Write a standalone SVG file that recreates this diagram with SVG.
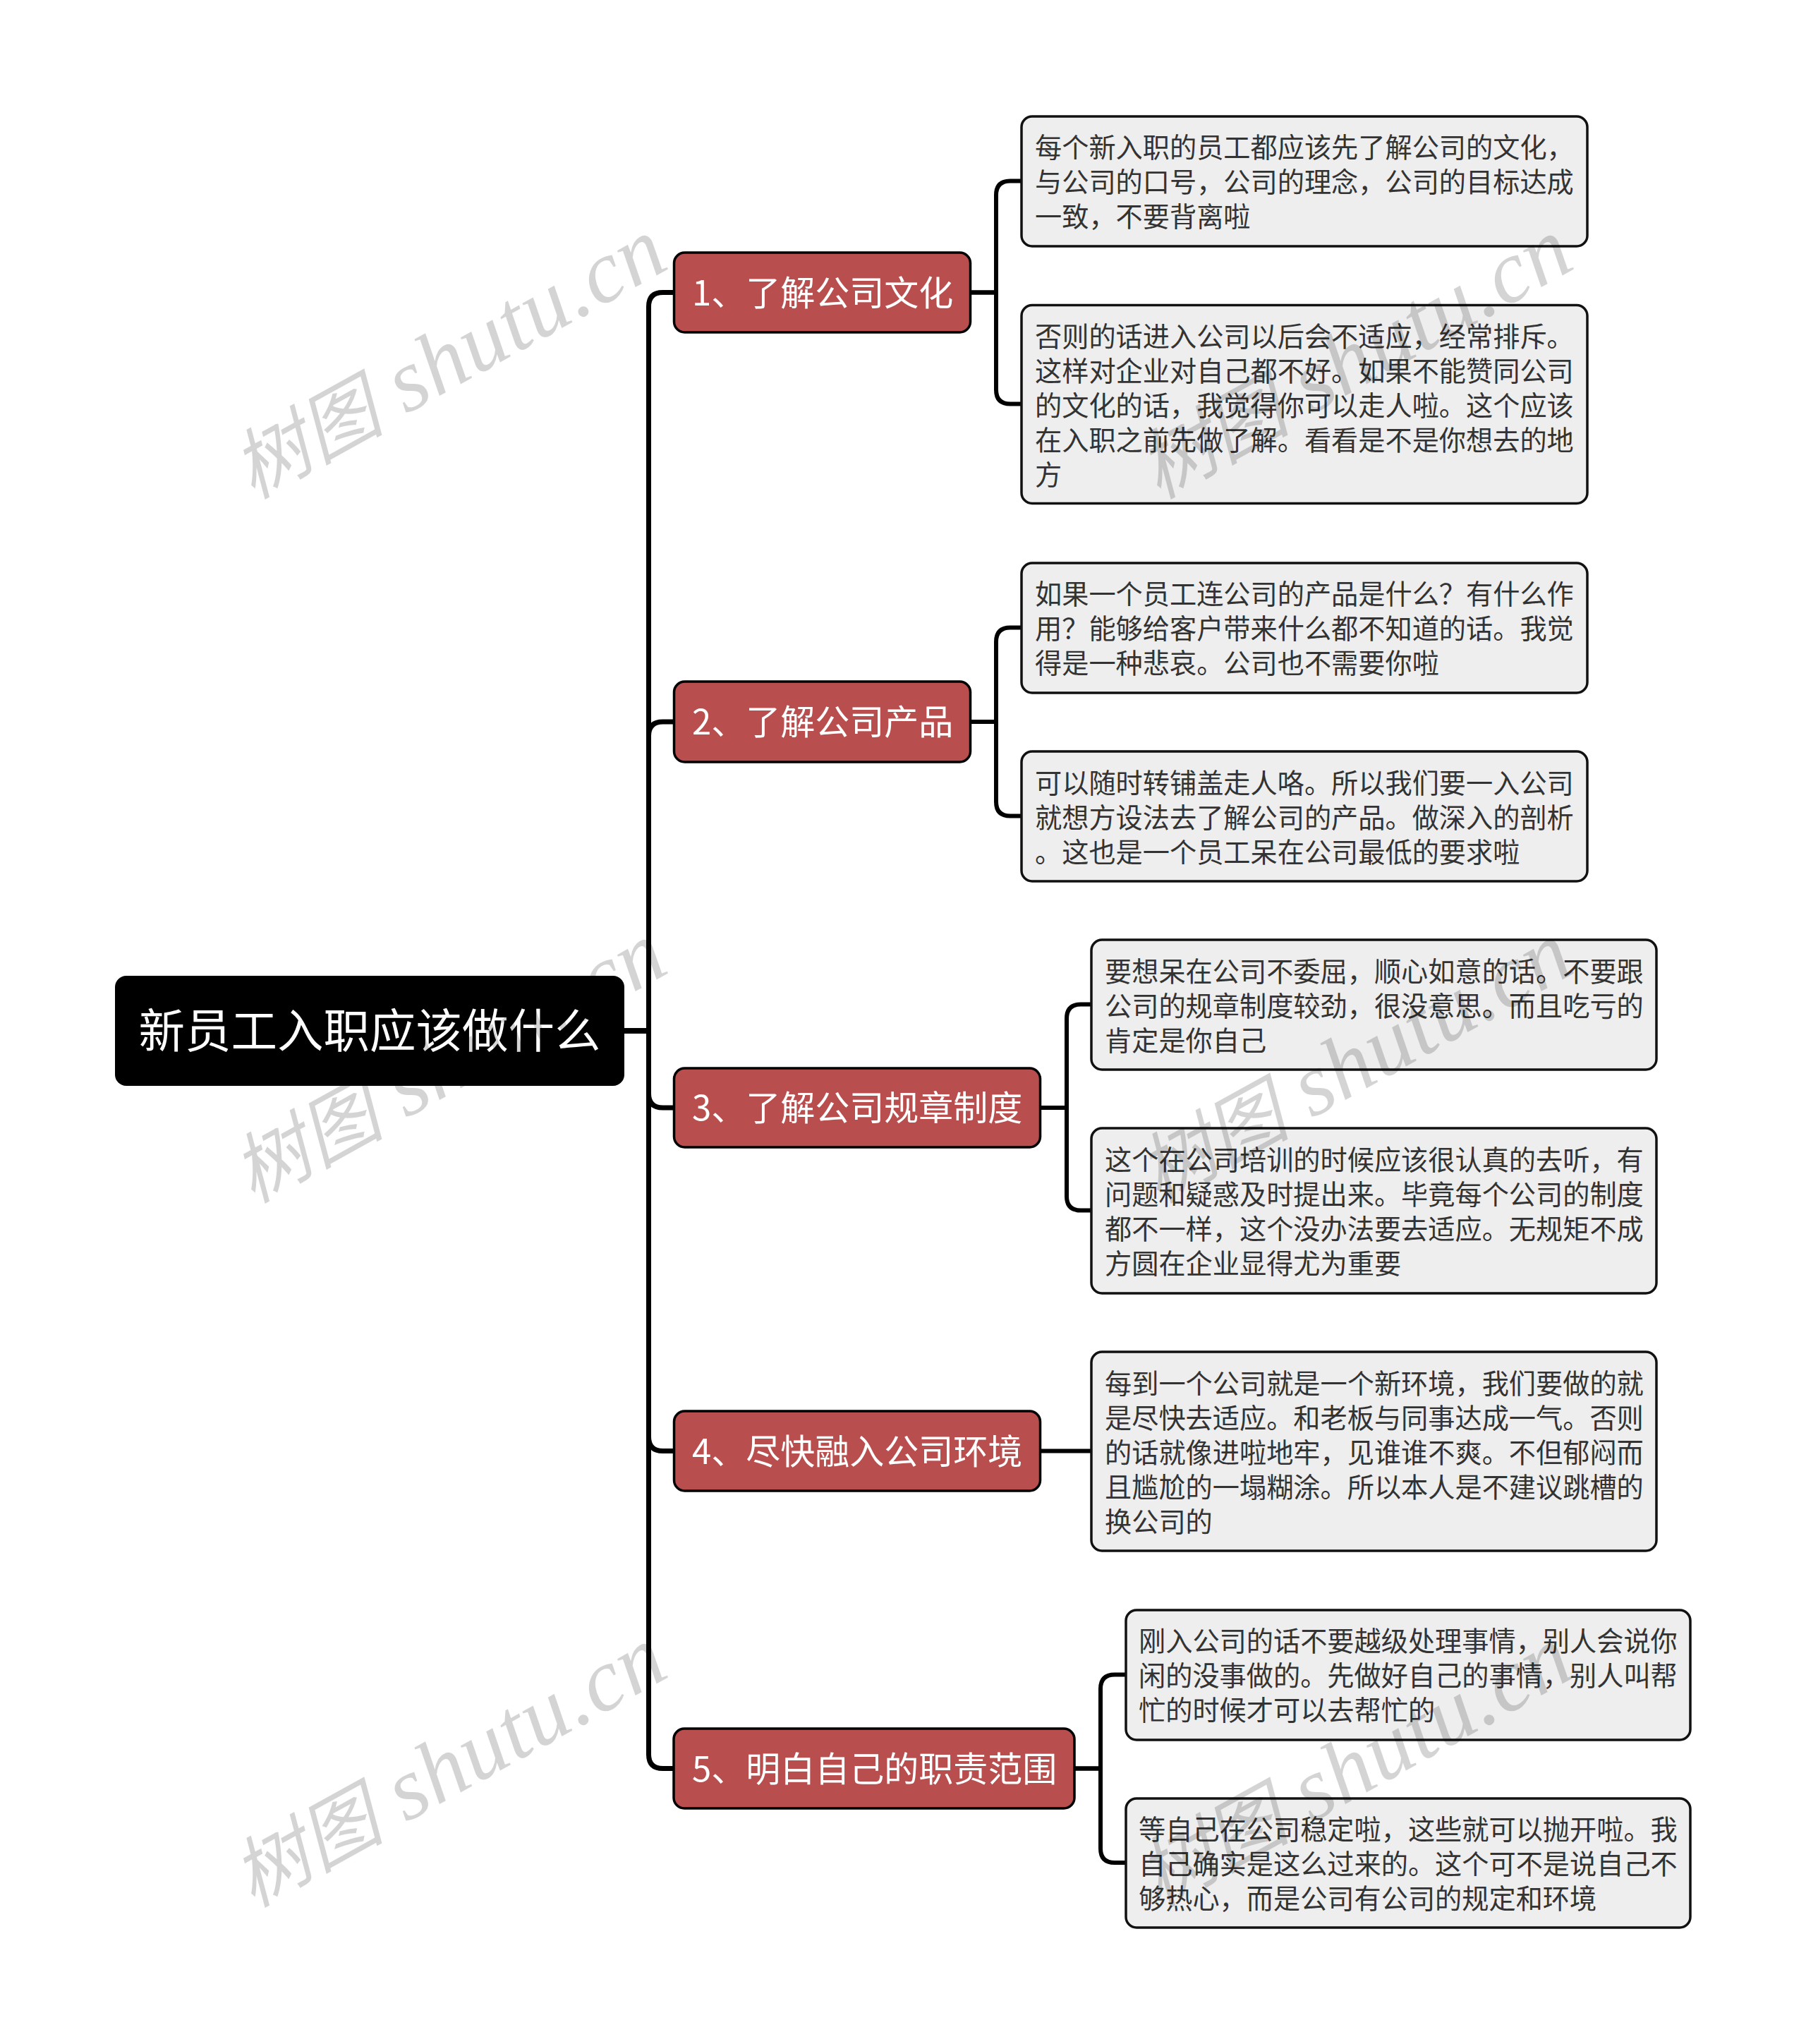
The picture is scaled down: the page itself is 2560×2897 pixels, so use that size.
<svg xmlns="http://www.w3.org/2000/svg" width="2560" height="2897" viewBox="0 0 2560 2897">
<style>
text{font-family:"Noto Sans CJK SC","Liberation Sans",sans-serif}
.trunk{fill:none;stroke:#000;stroke-width:7}
.twig{fill:none;stroke:#000;stroke-width:6}
.root{fill:#000}
.rootT{fill:#fff;font-size:65.5px;text-anchor:middle}
.topic{fill:#b94e4e;stroke:#000;stroke-width:3.5}
.topicT{fill:#fff;font-size:49px}
.leaf{fill:#eee;stroke:#111;stroke-width:3.5}
.leafT{fill:#333;font-size:38.2px}
.wm{font-family:"Liberation Serif","Noto Sans CJK SC",serif;font-style:italic;font-size:126px;letter-spacing:1px;fill:#000;fill-opacity:.17}
.wmc{font-size:108px;letter-spacing:0}
</style>
<rect width="2560" height="2897" fill="#fff"/>
<g id="connectors">
<path class="trunk" d="M885 1461H919.5V434.5Q919.5 414.5 939.5 414.5H956"/>
<path class="trunk" d="M885 1461H919.5V1043Q919.5 1023 939.5 1023H956"/>
<path class="trunk" d="M885 1461H919.5V1550Q919.5 1570 939.5 1570H956"/>
<path class="trunk" d="M885 1461H919.5V2036.5Q919.5 2056.5 939.5 2056.5H956"/>
<path class="trunk" d="M885 1461H919.5V2486.5Q919.5 2506.5 939.5 2506.5H956"/>
<path class="twig" d="M1376 414.5H1412V276.5Q1412 256.5 1432 256.5H1449"/>
<path class="twig" d="M1376 414.5H1412V552.5Q1412 572.5 1432 572.5H1449"/>
<path class="twig" d="M1376 1023H1412V909.5Q1412 889.5 1432 889.5H1449"/>
<path class="twig" d="M1376 1023H1412V1136.5Q1412 1156.5 1432 1156.5H1449"/>
<path class="twig" d="M1475 1570H1512V1443.5Q1512 1423.5 1532 1423.5H1547"/>
<path class="twig" d="M1475 1570H1512V1695.5Q1512 1715.5 1532 1715.5H1547"/>
<path class="twig" d="M1475 2056.5H1547"/>
<path class="twig" d="M1524 2506.5H1560V2393.5Q1560 2373.5 1580 2373.5H1596"/>
<path class="twig" d="M1524 2506.5H1560V2620Q1560 2640 1580 2640H1596"/>
</g>
<g id="root"><rect class="root" x="163" y="1383" width="722" height="156" rx="16"/><text class="rootT" x="524" y="1484.5">新员工入职应该做什么</text></g>
<g id="topic1"><rect class="topic" x="955.5" y="358" width="420" height="113" rx="15"/><text class="topicT" x="981" y="432.5">1、了解公司文化</text></g>
<g id="topic2"><rect class="topic" x="955.5" y="966" width="420" height="114" rx="15"/><text class="topicT" x="981" y="1041">2、了解公司产品</text></g>
<g id="topic3"><rect class="topic" x="955.5" y="1514" width="519" height="112" rx="15"/><text class="topicT" x="981" y="1587.5">3、了解公司规章制度</text></g>
<g id="topic4"><rect class="topic" x="955.5" y="2000" width="519" height="113" rx="15"/><text class="topicT" x="981" y="2075">4、尽快融入公司环境</text></g>
<g id="topic5"><rect class="topic" x="955" y="2450" width="568" height="113" rx="15"/><text class="topicT" x="981" y="2525">5、明白自己的职责范围</text></g>
<g id="leaf1a"><rect class="leaf" x="1448" y="165" width="802" height="184" rx="15"/><text class="leafT" y="223.4"><tspan x="1467">每个新入职的员工都应该先了解公司的文化&#xFF0C;</tspan><tspan x="1467" dy="49">与公司的口号&#xFF0C;公司的理念&#xFF0C;公司的目标达成</tspan><tspan x="1467" dy="49">一致&#xFF0C;不要背离啦</tspan></text></g>
<g id="leaf1b"><rect class="leaf" x="1448" y="432.5" width="802" height="281" rx="15"/><text class="leafT" y="491.4"><tspan x="1467">否则的话进入公司以后会不适应&#xFF0C;经常排斥。</tspan><tspan x="1467" dy="49">这样对企业对自己都不好。如果不能赞同公司</tspan><tspan x="1467" dy="49">的文化的话&#xFF0C;我觉得你可以走人啦。这个应该</tspan><tspan x="1467" dy="49">在入职之前先做了解。看看是不是你想去的地</tspan><tspan x="1467" dy="49">方</tspan></text></g>
<g id="leaf2a"><rect class="leaf" x="1448" y="798" width="802" height="184" rx="15"/><text class="leafT" y="856.4"><tspan x="1467">如果一个员工连公司的产品是什么&#xFF1F;有什么作</tspan><tspan x="1467" dy="49">用&#xFF1F;能够给客户带来什么都不知道的话。我觉</tspan><tspan x="1467" dy="49">得是一种悲哀。公司也不需要你啦</tspan></text></g>
<g id="leaf2b"><rect class="leaf" x="1448" y="1065" width="802" height="184" rx="15"/><text class="leafT" y="1124"><tspan x="1467">可以随时转铺盖走人咯。所以我们要一入公司</tspan><tspan x="1467" dy="49">就想方设法去了解公司的产品。做深入的剖析</tspan><tspan x="1467" dy="49">。这也是一个员工呆在公司最低的要求啦</tspan></text></g>
<g id="leaf3a"><rect class="leaf" x="1547" y="1332" width="801" height="184" rx="15"/><text class="leafT" y="1391"><tspan x="1566">要想呆在公司不委屈&#xFF0C;顺心如意的话。不要跟</tspan><tspan x="1566" dy="49">公司的规章制度较劲&#xFF0C;很没意思。而且吃亏的</tspan><tspan x="1566" dy="49">肯定是你自己</tspan></text></g>
<g id="leaf3b"><rect class="leaf" x="1547" y="1599" width="801" height="234" rx="15"/><text class="leafT" y="1658"><tspan x="1566">这个在公司培训的时候应该很认真的去听&#xFF0C;有</tspan><tspan x="1566" dy="49">问题和疑惑及时提出来。毕竟每个公司的制度</tspan><tspan x="1566" dy="49">都不一样&#xFF0C;这个没办法要去适应。无规矩不成</tspan><tspan x="1566" dy="49">方圆在企业显得尤为重要</tspan></text></g>
<g id="leaf4"><rect class="leaf" x="1547" y="1916" width="801" height="282" rx="15"/><text class="leafT" y="1975"><tspan x="1566">每到一个公司就是一个新环境&#xFF0C;我们要做的就</tspan><tspan x="1566" dy="49">是尽快去适应。和老板与同事达成一气。否则</tspan><tspan x="1566" dy="49">的话就像进啦地牢&#xFF0C;见谁谁不爽。不但郁闷而</tspan><tspan x="1566" dy="49">且尴尬的一塌糊涂。所以本人是不建议跳槽的</tspan><tspan x="1566" dy="49">换公司的</tspan></text></g>
<g id="leaf5a"><rect class="leaf" x="1596" y="2282" width="800" height="184" rx="15"/><text class="leafT" y="2340.4"><tspan x="1614">刚入公司的话不要越级处理事情&#xFF0C;别人会说你</tspan><tspan x="1614" dy="49">闲的没事做的。先做好自己的事情&#xFF0C;别人叫帮</tspan><tspan x="1614" dy="49">忙的时候才可以去帮忙的</tspan></text></g>
<g id="leaf5b"><rect class="leaf" x="1596" y="2549" width="800" height="183" rx="15"/><text class="leafT" y="2607.4"><tspan x="1614">等自己在公司稳定啦&#xFF0C;这些就可以抛开啦。我</tspan><tspan x="1614" dy="49">自己确实是这么过来的。这个可不是说自己不</tspan><tspan x="1614" dy="49">够热心&#xFF0C;而是公司有公司的规定和环境</tspan></text></g>
<g id="watermarks">
<text class="wm" transform="translate(358 708) rotate(-29)"><tspan class="wmc">树图</tspan> shutu.cn</text>
<text class="wm" transform="translate(358 1706) rotate(-29)"><tspan class="wmc">树图</tspan> shutu.cn</text>
<text class="wm" transform="translate(358 2704) rotate(-29)"><tspan class="wmc">树图</tspan> shutu.cn</text>
<text class="wm" transform="translate(1642 708) rotate(-29)"><tspan class="wmc">树图</tspan> shutu.cn</text>
<text class="wm" transform="translate(1642 1706) rotate(-29)"><tspan class="wmc">树图</tspan> shutu.cn</text>
<text class="wm" transform="translate(1642 2704) rotate(-29)"><tspan class="wmc">树图</tspan> shutu.cn</text>
</g>
</svg>
